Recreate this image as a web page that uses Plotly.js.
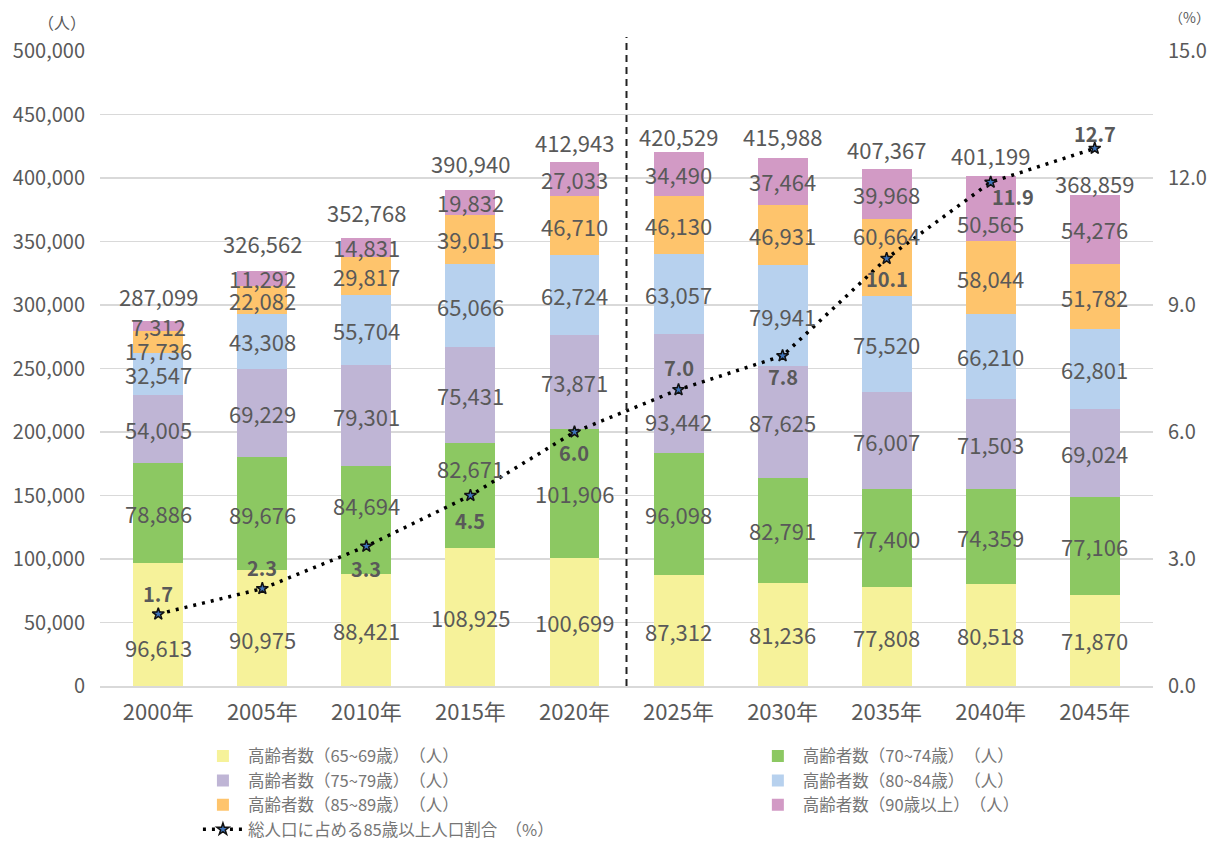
<!DOCTYPE html>
<html>
<head>
<meta charset="utf-8">
<script src="https://cdn.plot.ly/plotly-3.0.1.min.js"></script>
<style>html,body{margin:0;padding:0;background:#fff;}#chart{width:1219px;height:850px;}</style>
</head>
<body>
<div id="chart"></div>
<script>
const years = ['2000年','2005年','2010年','2015年','2020年','2025年','2030年','2035年','2040年','2045年'];
const age65_69 = [96613, 90975, 88421, 108925, 100699, 87312, 81236, 77808, 80518, 71870];
const age70_74 = [78886, 89676, 84694, 82671, 101906, 96098, 82791, 77400, 74359, 77106];
const age75_79 = [54005, 69229, 79301, 75431, 73871, 93442, 87625, 76007, 71503, 69024];
const age80_84 = [32547, 43308, 55704, 65066, 62724, 63057, 79941, 75520, 66210, 62801];
const age85_89 = [17736, 22082, 29817, 39015, 46710, 46130, 46931, 60664, 58044, 51782];
const age90up  = [7312, 11292, 14831, 19832, 27033, 34490, 37464, 39968, 50565, 54276];
const totalLabels = ['287,099','326,562','352,768','390,940','412,943','420,529','415,988','407,367','401,199','368,859'];
const share85 = [1.7, 2.3, 3.3, 4.5, 6.0, 7.0, 7.8, 10.1, 11.9, 12.7];

const seriesNames = ['高齢者数（65~69歳）　（人）','高齢者数（70~74歳）　（人）','高齢者数（75~79歳）　（人）','高齢者数（80~84歳）　（人）','高齢者数（85~89歳）　（人）','高齢者数（90歳以上）　（人）'];
const lineName = '総人口に占める85歳以上人口割合　（%）';

// ---- styling / label placement (pixels, not data) ----
const colors = ['#F6F29A','#8CC862','#BFB5D5','#B7D1EE','#FEC46C','#D29AC5'];
const legendOf = ['legend','legend2','legend','legend2','legend','legend2'];
// manual nudges of segment labels (series index, category index, px up)
const segNudge = [[0,0,-22],[0,1,-11],[4,0,-8],[2,5,-27],[4,7,23],[5,8,-14],[1,3,27],[1,2,15]];
const totalShift = [25, 28, 26, 27, 20, 16, 22, 20, 21, 12];
const lineLabelShift = [[0,21],[0,21],[0,-22],[0,-25],[0,-20],[0,22],[0,-21],[0,-20],[22,-14],[0,15]];

const series = [age65_69, age70_74, age75_79, age80_84, age85_89, age90up];
const txt = '#595959';
const font = '"Noto Sans CJK JP", "Noto Sans", sans-serif';
const fmt = v => v.toLocaleString('en-US');

const traces = series.map((vals, i) => ({
  type: 'bar', x: years, y: vals, name: seriesNames[i], legend: legendOf[i],
  marker: {color: colors[i]}, hoverinfo: 'skip'
}));

traces.push({
  type: 'scatter', mode: 'lines+markers', x: years, y: share85, yaxis: 'y2',
  name: lineName, legend: 'legend',
  line: {color: '#000000', width: 3.5, dash: '3px,6px'},
  marker: {symbol: 'star', size: 9, color: '#3E73BA', line: {color: '#111111', width: 1.5}},
  cliponaxis: false, hoverinfo: 'skip'
});

const annotations = [];
// segment labels at segment midpoints
const cum = years.map(() => 0);
series.forEach((vals, i) => {
  vals.forEach((v, j) => {
    const mid = cum[j] + v / 2;
    cum[j] += v;
    const n = segNudge.find(s => s[0] === i && s[1] === j);
    annotations.push({
      x: years[j], y: mid, xref: 'x', yref: 'y', text: fmt(v), showarrow: false,
      xanchor: 'center', yanchor: 'middle', yshift: n ? n[2] : 0,
      font: {size: 22, color: txt, family: font}
    });
  });
});
// totals above stacks
years.forEach((y, j) => {
  annotations.push({
    x: y, y: cum[j], xref: 'x', yref: 'y', text: totalLabels[j], showarrow: false,
    xanchor: 'center', yanchor: 'middle', yshift: totalShift[j],
    font: {size: 22, color: txt, family: font}
  });
});
// percentage labels
share85.forEach((v, j) => {
  annotations.push({
    x: years[j], y: v, xref: 'x', yref: 'y2', text: v.toFixed(1), showarrow: false,
    xanchor: 'center', yanchor: 'middle', xshift: lineLabelShift[j][0], yshift: lineLabelShift[j][1],
    font: {size: 20, color: txt, family: font, weight: 'bold'}
  });
});
annotations.push(
  {text: '（人）', xref: 'paper', yref: 'paper', x: -0.036, y: 1.046, xanchor: 'center', yanchor: 'middle', showarrow: false, font: {size: 16, color: txt}},
  {text: '（%）', xref: 'paper', yref: 'paper', x: 1.035, y: 1.054, xanchor: 'center', yanchor: 'middle', showarrow: false, font: {size: 14, color: txt}}
);

const legendCommon = {
  orientation: 'v', yanchor: 'top', y: -0.083, xanchor: 'left',
  traceorder: 'normal', font: {size: 16.5, color: '#767676', family: font},
  itemwidth: 40, tracegroupgap: 0, bgcolor: 'rgba(0,0,0,0)'
};

const layout = {
  width: 1219, height: 850,
  margin: {l: 100, r: 66, t: 51, b: 164, autoexpand: false},
  paper_bgcolor: '#fff', plot_bgcolor: '#fff',
  font: {family: font, color: txt},
  barmode: 'stack', bargap: 0.52,
  showlegend: true,
  xaxis: {
    type: 'category', tickfont: {size: 22, color: txt}, showgrid: false,
    ticks: '', showline: true, linecolor: '#D9D9D9', linewidth: 1.5, ticklabelstandoff: 6
  },
  yaxis: {
    range: [0, 500000], dtick: 50000, tickformat: ',.0f',
    tickfont: {size: 20, color: txt}, gridcolor: '#D9D9D9', gridwidth: 1.5,
    zeroline: false, ticks: '', ticklabelstandoff: 14
  },
  yaxis2: {
    overlaying: 'y', side: 'right', range: [0, 15], dtick: 3, tickformat: '.1f',
    tickfont: {size: 20, color: txt}, showgrid: false, zeroline: false, ticks: '',
    ticklabelstandoff: 14
  },
  legend: Object.assign({}, legendCommon, {x: 0.093}),
  legend2: Object.assign({}, legendCommon, {x: 0.620}),
  shapes: [{
    type: 'line', xref: 'x', yref: 'paper', x0: 4.5, x1: 4.5, y0: 0, y1: 1.022,
    line: {color: '#222222', width: 2, dash: '7px,5px'}
  }],
  annotations: annotations
};

Plotly.newPlot('chart', traces, layout, {displayModeBar: false, staticPlot: true});
</script>
</body>
</html>
